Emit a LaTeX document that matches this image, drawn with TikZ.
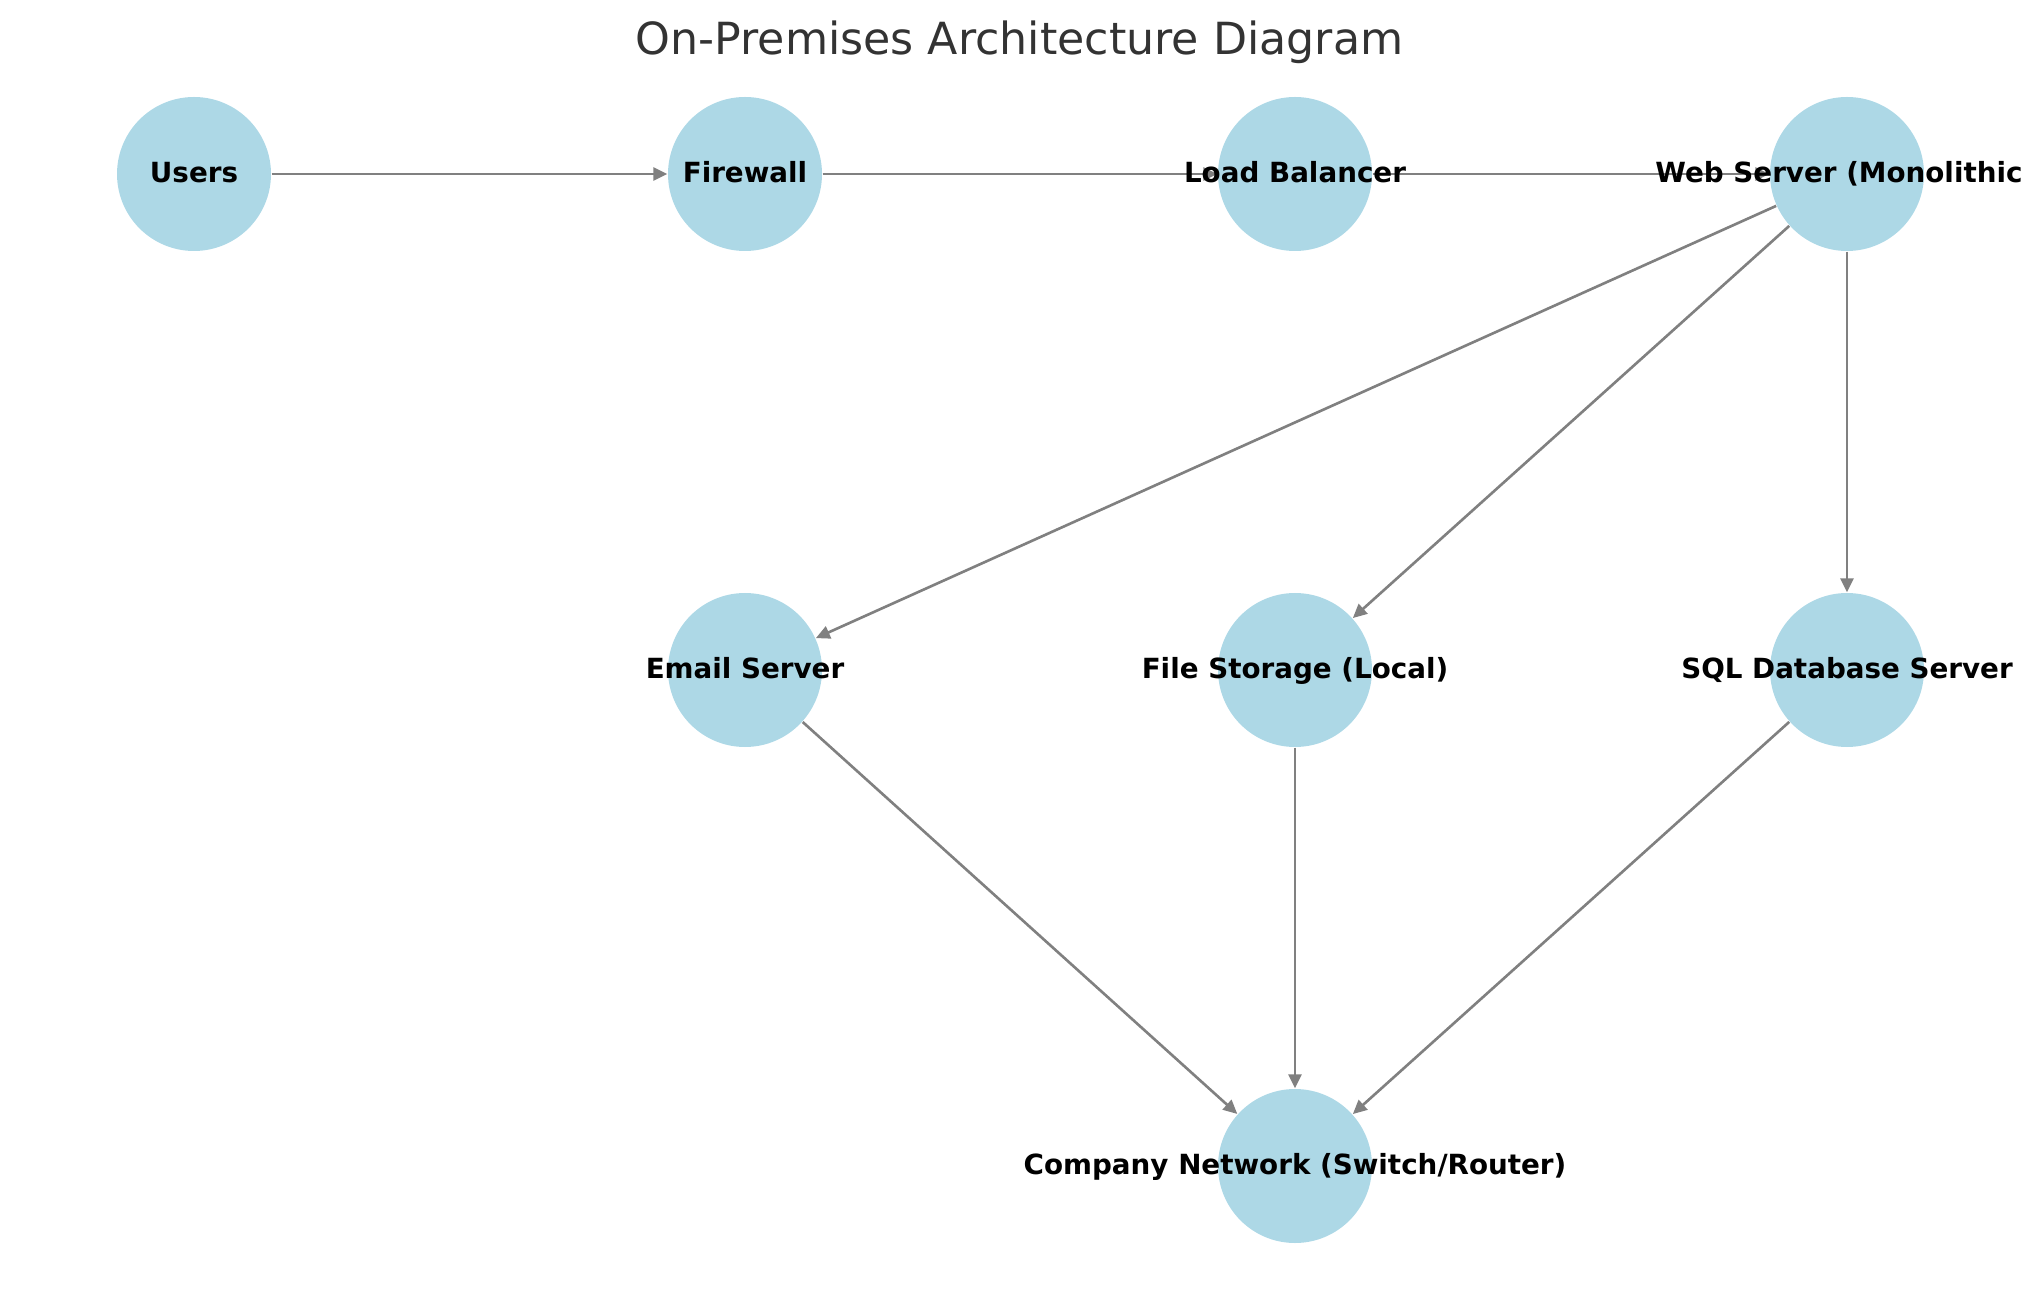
\documentclass[tikz,border=0pt]{standalone}
\usepackage{fontspec}
\setmainfont{DejaVu Sans}
\usetikzlibrary{arrows.meta}
\definecolor{nodeblue}{HTML}{ADD8E6}
\definecolor{titlegray}{HTML}{333333}

\begin{document}
\begin{tikzpicture}[%
        hub/.style = {circle, fill = nodeblue, minimum size = 1.54cm, inner sep = 0pt},
        tag/.style = {anchor = base, yshift = -0.085cm, inner sep = 0pt,
                      font = \fontsize{7.9}{9.5}\selectfont\bfseries},
        link/.style = {draw = gray, line width = 0.75pt,
                       -{Triangle[length = 1.4mm, width = 1.3mm]}},
        ]

\useasboundingbox[] (0,0) rectangle (20.39,12.90);

\node (title) [anchor = base, text = titlegray, font = \fontsize{12.6}{15}\selectfont]
    at (10.195,12.35) {On-Premises Architecture Diagram};

% top row
\node (users)    [hub] at (1.94,11.16)  {};
\node (firewall) [hub] at (7.45,11.16)  {};
\node (balancer) [hub] at (12.95,11.16) {};
\node (web)      [hub] at (18.47,11.16) {};

% middle row
\node (email)    [hub] at (7.45,6.20)   {};
\node (files)    [hub] at (12.95,6.20)  {};
\node (sql)      [hub] at (18.47,6.20)  {};

% bottom
\node (network)  [hub] at (12.95,1.24)  {};


\foreach \FROM/\TO in {users/firewall, firewall/balancer, balancer/web,
                       web/email, web/files, web/sql,
                       email/network, files/network, sql/network}{
    \draw[link] (\FROM) -- (\TO);
    }


\foreach \NODE/\TEXT in {users/{Users}, firewall/{Firewall},
                         balancer/{Load Balancer},
                         email/{Email Server}, files/{File Storage (Local)},
                         sql/{SQL Database Server},
                         network/{Company Network (Switch/Router)}}{
    \node (\NODE-tag) [tag] at (\NODE) {\TEXT};
    }
% cut off at the right edge
\node (web-tag) [tag, xshift = -0.08cm] at (web) {Web Server (Monolithic};


\end{tikzpicture}
\end{document}
